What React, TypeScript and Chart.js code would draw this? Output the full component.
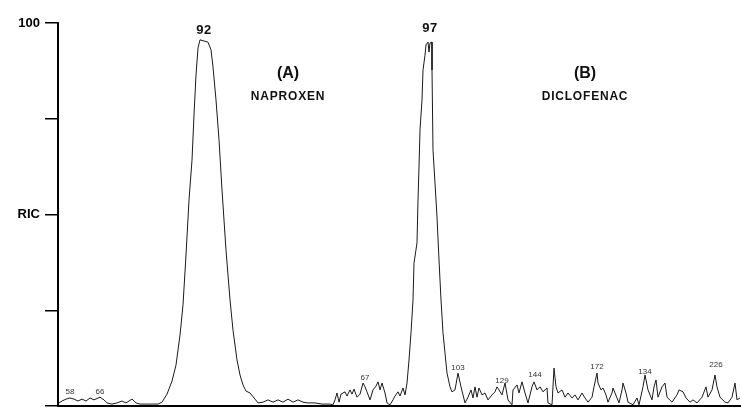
import React, { useEffect, useRef } from "react";
import { Chart, registerables } from "chart.js";

Chart.register(...registerables);

// Scan number (x) and relative ion current in % (y)
const scans: number[] = [
  0.5, 2, 4, 6, 8, 10, 12, 14, 16, 18, 21, 23, 24.5, 27, 29.5, 32, 34, 37, 39, 41, 50, 52,
  54.5, 57, 59, 61, 62.5, 64, 65.5, 67, 68, 69, 70, 71, 73, 75, 76.5, 77.5, 79, 80.5, 82, 84,
  86, 87.5, 89.5, 91, 92.5, 94, 96, 98.5, 100, 102.5, 105, 107.5, 110, 112.5, 115, 117.5, 120,
  122.5, 125, 128.5, 132, 136, 137.5, 138.5, 139.5, 140.5, 141.5, 143.5, 144.5, 146, 147, 148,
  149.5, 151, 152.5, 153.5, 154.5, 156, 157.5, 159, 160, 161, 162, 163.5, 164.5, 166, 167.5,
  168.5, 170, 171, 172.5, 173.5, 174.5, 175.5, 176.5, 177.5, 178, 179.5, 180, 180.5, 181, 182,
  182.5, 183.5, 184, 185, 185.5, 186, 187, 187, 187.5, 188.5, 189.5, 190.5, 191.5, 192.5, 193.5,
  194.5, 196, 197, 198.5, 200, 201.5, 202.5, 203.5, 205, 206.5, 207.5, 208.5, 209.5, 210.5, 212,
  213.5, 215, 217, 218.5, 219.5, 220.5, 222, 223.5, 225, 227, 227.5, 229.5, 230.5, 232, 233.5,
  235, 237, 238, 239.5, 241, 242.5, 244.5, 245, 247, 248, 249, 250, 252, 253.5, 255, 257, 258.5,
  260, 262, 263.5, 265, 267, 268, 269.5, 270, 271.5, 272.5, 274, 275, 277, 277.5, 279.5, 280.5,
  282, 282.5, 284, 285, 287.5, 289.5, 290.5, 292.5, 293.5, 295, 297, 298, 299, 300, 302, 303.5,
  304.5, 307, 309.5, 310.5, 312.5, 314, 316, 317.5, 319.5, 322, 324, 325, 327, 328.5, 329.5, 331,
  333.5, 335, 337, 338.5, 339.5, 341,
];

const ric: number[] = [
  0.8, 1.3, 1.8, 2.1, 1.8, 1.3, 1.8, 1.3, 2.1, 1.6, 2.3, 1.6, 0.8, 0.5, 0.8, 1.3, 0.8, 1.8, 0.8, 0.5, 0.5, 1.0,
  3.1, 6.5, 10.7, 18.5, 26.4, 39.4, 53.8, 64.2, 76, 86.4, 93.5, 95.6, 95.3, 95, 93, 88.5, 79.9, 69.5, 56.4, 40.7,
  27.7, 19.8, 12, 8.1, 5.5, 3.9, 3.4, 1.8, 0.8, 1.0, 1.6, 1.0, 1.6, 1.0, 1.8, 1.0, 1.6,
  1.0, 0.8, 0.8, 0.5, 0.5, 0.3, 1.6, 3.4, 1.0, 3.1, 3.7, 2.6, 4.2, 3.1, 4.4,
  2.3, 3.1, 6.0, 5.0, 3.7, 1.6, 4.2, 5.2, 6.3, 4.2, 6.0, 3.4, 0.8, 0.3, 1.6,
  2.6, 3.7, 2.6, 4.7, 2.9, 6.0, 12, 19.1, 27.7, 37.3, 42.6, 53.8, 62.4, 72.1, 79.9,
  87.7, 91.6, 94.3, 95, 92.4, 94.8, 95, 87.7, 66.8, 58.2, 49.3, 38.1, 27.7, 19.1, 13.8,
  8.6, 5.0, 3.7, 4.2, 8.6, 5.0, 2.9, 0.8, 2.3, 4.2, 2.1, 5.0, 2.3, 4.7, 2.9,
  3.4, 1.6, 2.9, 3.7, 5.0, 4.2, 2.9, 6.0, 1.6, 0.3, 4.2, 5.5, 3.4, 6.3, 3.4,
  0.8, 5.0, 6.3, 4.2, 5.0, 3.7, 4.7, 0.8, 0.3, 9.9, 5.0, 3.4, 4.2, 2.3, 3.4, 2.1, 2.9,
  1.6, 3.4, 2.1, 1.0, 2.3, 5.0, 8.6, 6.0, 4.2, 4.7, 2.9, 1.0, 3.4, 4.7, 2.1, 0.8,
  4.2, 6.0, 3.4, 1.0, 0.3, 2.1, 0.3, 5.0, 8.1, 4.2, 1.6, 5.0, 6.8, 2.3, 5.0, 6.0,
  2.3, 1.0, 2.9, 4.2, 3.7, 2.1, 1.0, 1.6, 0.8, 2.3, 5.0, 2.3, 4.2, 8.1, 5.0, 2.3,
  1.0, 0.8, 2.3, 6.0, 1.6, 2.1,
];

// Mass labels on peaks: position (scan, %) and text
const massLabelScans: number[] = [73, 186, 6, 21, 153.5, 200, 222, 238.5, 269.5, 293.5, 329];
const massLabelRic: number[] = [98, 98.5, 3.7, 3.7, 7.3, 9.9, 6.5, 8.1, 10.2, 8.9, 10.7];
const massLabelTexts: string[] = ["92", "97", "58", "66", "67", "103", "129", "144", "172", "134", "226"];

// Compound annotations
const compoundScans: number[] = [115, 263.5];
const compoundLetterRic: number[] = [86.9, 86.9];
const compoundNameRic: number[] = [80.7, 80.7];
const compoundLetters: string[] = ["(A)", "(B)"];
const compoundNames: string[] = ["NAPROXEN", "DICLOFENAC"];

// Y axis
const yTickLabels: Record<number, string> = { 100: "100", 50: "RIC" };

const FONT = "'Liberation Sans', Arial, sans-serif";

const labelPlugin = {
  id: "peakLabels",
  afterDatasetsDraw(chart: any) {
    const { ctx, scales } = chart;
    const xs = scales.x;
    const ys = scales.y;
    ctx.save();
    ctx.textAlign = "center";
    ctx.textBaseline = "middle";
    massLabelTexts.forEach((t, i) => {
      const big = i < 2;
      ctx.font = big ? `bold 13px ${FONT}` : `8px ${FONT}`;
      ctx.fillStyle = big ? "#111" : "#333";
      (ctx as any).letterSpacing = big ? "0.5px" : "0px";
      ctx.fillText(t, xs.getPixelForValue(massLabelScans[i]), ys.getPixelForValue(massLabelRic[i]));
    });
    compoundLetters.forEach((t, i) => {
      ctx.fillStyle = "#111";
      (ctx as any).letterSpacing = "0px";
      ctx.font = `bold 16px ${FONT}`;
      ctx.fillText(t, xs.getPixelForValue(compoundScans[i]), ys.getPixelForValue(compoundLetterRic[i]));
      ctx.font = `bold 12px ${FONT}`;
      (ctx as any).letterSpacing = "0.8px";
      ctx.fillText(compoundNames[i], xs.getPixelForValue(compoundScans[i]), ys.getPixelForValue(compoundNameRic[i]));
    });
    ctx.restore();
  },
};

export default function App() {
  const ref = useRef<HTMLCanvasElement>(null);
  useEffect(() => {
    if (!ref.current) return;
    const chart = new Chart(ref.current, {
      type: "line",
      data: {
        datasets: [
          {
            data: scans.map((s, i) => ({ x: s, y: ric[i] })),
            borderColor: "#1a1a1a",
            borderWidth: 1,
            pointRadius: 0,
            tension: 0,
            fill: false,
          },
        ],
      },
      options: {
        animation: false,
        responsive: false,
        layout: { padding: { top: 23, bottom: 2, right: 0, left: 0 } },
        plugins: { legend: { display: false }, tooltip: { enabled: false } },
        scales: {
          x: {
            type: "linear",
            min: 0,
            max: 341.5,
            ticks: { display: false },
            grid: { display: false },
            border: { display: true, color: "#000", width: 2 },
            afterFit: (s: any) => {
              s.height = 0;
              s.paddingLeft = 0;
              s.paddingRight = 0;
            },
          },
          y: {
            min: 0,
            max: 100,
            ticks: {
              stepSize: 25,
              padding: 5,
              color: "#000",
              font: { family: FONT, size: 13, weight: "bold" },
              callback: (v: any) => yTickLabels[v as number] ?? "",
            },
            grid: {
              drawOnChartArea: false,
              drawTicks: true,
              tickLength: 13,
              color: "#000",
              lineWidth: 1.5,
            },
            border: { display: true, color: "#000", width: 2 },
            afterFit: (s: any) => {
              s.width = 58;
              s.paddingTop = 0;
              s.paddingBottom = 0;
            },
          },
        },
      },
      plugins: [labelPlugin],
    });
    return () => chart.destroy();
  }, []);
  return (
    <div style={{ position: "fixed", left: 0, top: 0, width: 741, height: 408, background: "#fff" }}>
      <canvas ref={ref} width={741} height={408} />
    </div>
  );
}
